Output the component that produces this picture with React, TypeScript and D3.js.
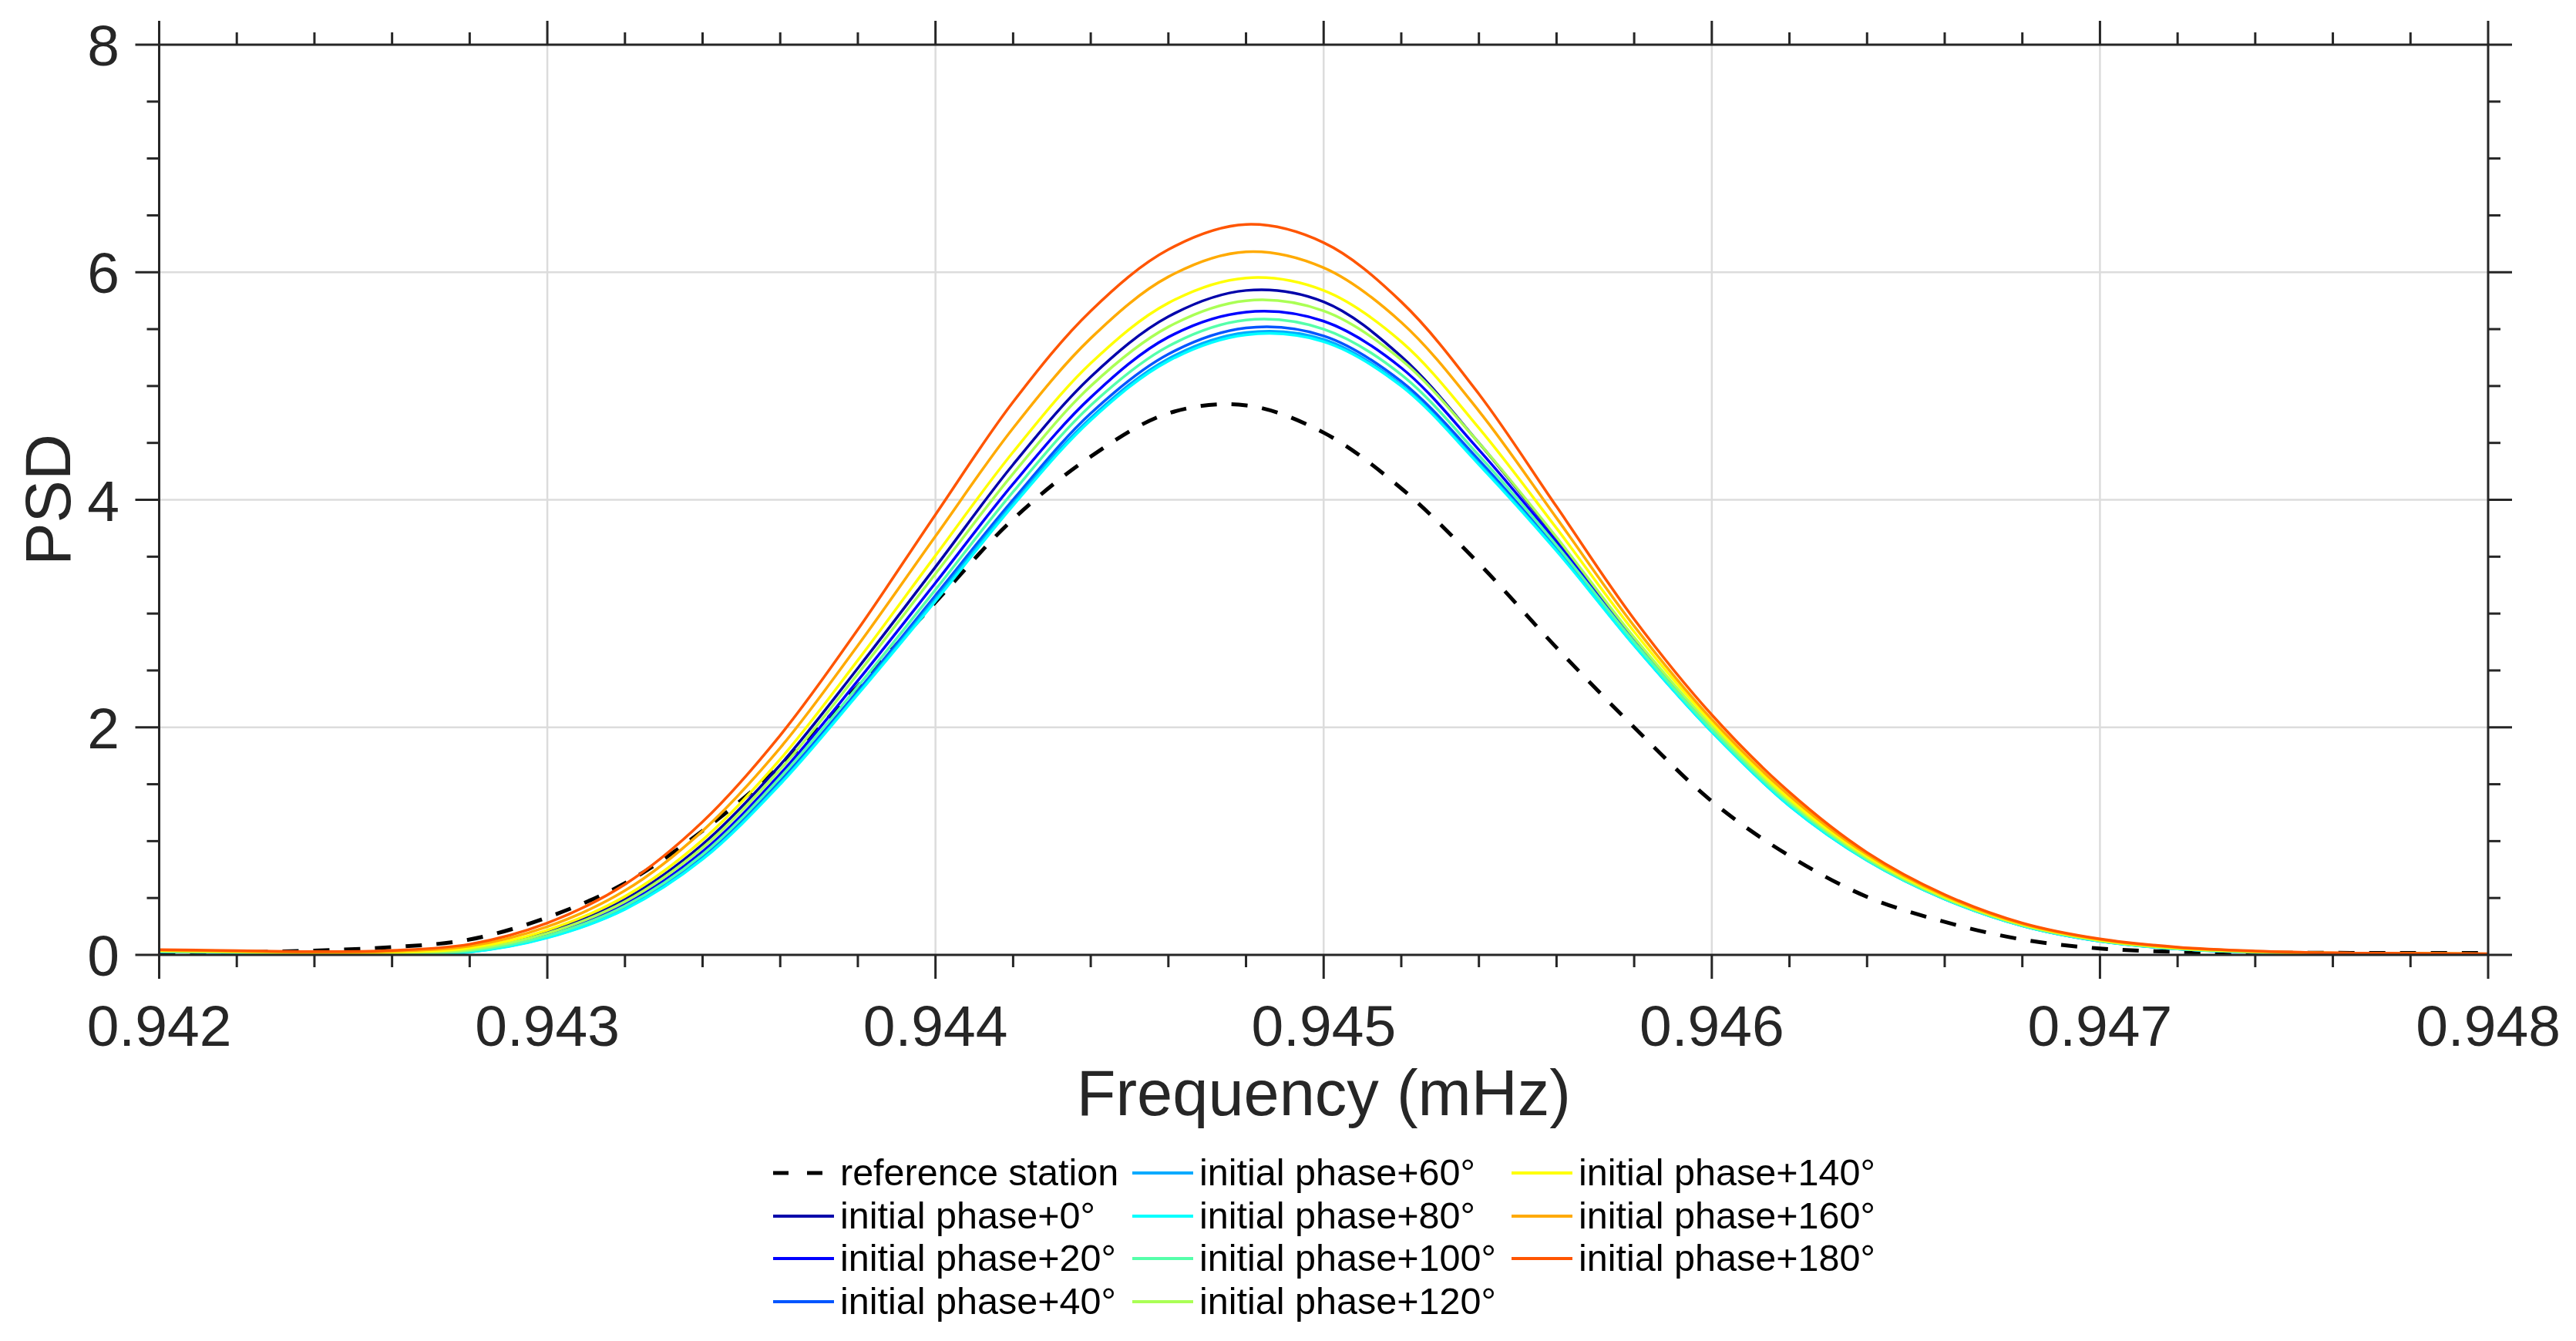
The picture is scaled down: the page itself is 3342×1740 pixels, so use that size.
import React, { useEffect } from 'react';
import * as d3 from 'd3';

const FREQ = [0.942, 0.9422, 0.9424, 0.9426, 0.9428, 0.943, 0.9432, 0.9434, 0.9436, 0.9438, 0.944, 0.9442, 0.9444, 0.9446, 0.9448, 0.945, 0.9452, 0.9454, 0.9456, 0.9458, 0.946, 0.9462, 0.9464, 0.9466, 0.9468, 0.947, 0.9472, 0.9474, 0.9476, 0.9478, 0.948];

const REF = [0.015, 0.022, 0.038, 0.068, 0.135, 0.33, 0.63, 1.09, 1.66, 2.36, 3.1, 3.83, 4.38, 4.76, 4.83, 4.59, 4.1, 3.44, 2.7, 2.0, 1.35, 0.87, 0.51, 0.29, 0.135, 0.056, 0.027, 0.02, 0.018, 0.017, 0.017];
const P0 = [0.035, 0.027, 0.018, 0.02, 0.053, 0.202, 0.488, 0.972, 1.67, 2.52, 3.41, 4.31, 5.08, 5.61, 5.84, 5.74, 5.26, 4.5, 3.66, 2.78, 2.0, 1.34, 0.85, 0.5, 0.262, 0.126, 0.057, 0.026, 0.014, 0.01, 0.007];
const P20 = [0.032, 0.024, 0.015, 0.015, 0.04, 0.177, 0.446, 0.909, 1.59, 2.41, 3.27, 4.14, 4.9, 5.43, 5.65, 5.57, 5.16, 4.44, 3.63, 2.77, 1.99, 1.34, 0.845, 0.498, 0.26, 0.124, 0.055, 0.025, 0.013, 0.009, 0.007];
const P40 = [0.029, 0.021, 0.013, 0.01, 0.029, 0.158, 0.413, 0.86, 1.53, 2.32, 3.16, 4.0, 4.76, 5.28, 5.51, 5.44, 5.04, 4.35, 3.57, 2.73, 1.97, 1.32, 0.834, 0.492, 0.257, 0.121, 0.053, 0.024, 0.012, 0.008, 0.006];
const P60 = [0.028, 0.02, 0.012, 0.009, 0.026, 0.153, 0.404, 0.847, 1.51, 2.3, 3.13, 3.97, 4.72, 5.24, 5.47, 5.41, 5.01, 4.32, 3.56, 2.72, 1.96, 1.31, 0.831, 0.491, 0.256, 0.12, 0.052, 0.023, 0.012, 0.008, 0.006];
const P80 = [0.028, 0.02, 0.012, 0.008, 0.025, 0.15, 0.4, 0.84, 1.5, 2.29, 3.11, 3.95, 4.7, 5.22, 5.45, 5.39, 5.0, 4.31, 3.55, 2.72, 1.96, 1.31, 0.83, 0.49, 0.255, 0.12, 0.052, 0.023, 0.012, 0.008, 0.006];
const P100 = [0.03, 0.022, 0.014, 0.012, 0.034, 0.167, 0.429, 0.883, 1.56, 2.36, 3.21, 4.07, 4.83, 5.35, 5.58, 5.5, 5.1, 4.39, 3.6, 2.75, 1.98, 1.33, 0.839, 0.495, 0.258, 0.123, 0.054, 0.024, 0.013, 0.009, 0.0065];
const P120 = [0.034, 0.025, 0.017, 0.018, 0.046, 0.19, 0.468, 0.942, 1.63, 2.47, 3.35, 4.23, 5.0, 5.52, 5.75, 5.66, 5.23, 4.5, 3.67, 2.79, 2.01, 1.35, 0.852, 0.502, 0.263, 0.126, 0.057, 0.026, 0.014, 0.01, 0.007];
const P140 = [0.037, 0.029, 0.02, 0.024, 0.061, 0.218, 0.514, 1.01, 1.72, 2.59, 3.51, 4.42, 5.2, 5.73, 5.95, 5.84, 5.39, 4.63, 3.75, 2.84, 2.04, 1.37, 0.866, 0.511, 0.268, 0.13, 0.06, 0.029, 0.015, 0.011, 0.008];
const P160 = [0.042, 0.033, 0.024, 0.031, 0.077, 0.248, 0.565, 1.09, 1.82, 2.72, 3.68, 4.63, 5.42, 5.96, 6.18, 6.04, 5.56, 4.78, 3.84, 2.89, 2.07, 1.4, 0.883, 0.52, 0.274, 0.135, 0.064, 0.031, 0.017, 0.013, 0.009];
const P180 = [0.046, 0.037, 0.028, 0.039, 0.094, 0.28, 0.62, 1.17, 1.93, 2.86, 3.87, 4.86, 5.66, 6.2, 6.42, 6.26, 5.74, 4.93, 3.94, 2.95, 2.11, 1.43, 0.9, 0.53, 0.28, 0.14, 0.068, 0.034, 0.018, 0.014, 0.01];

const PHASE_NAMES = ['initial phase+0°', 'initial phase+20°', 'initial phase+40°', 'initial phase+60°', 'initial phase+80°', 'initial phase+100°', 'initial phase+120°', 'initial phase+140°', 'initial phase+160°', 'initial phase+180°'];
const PHASE_COLORS = ['#0000AA', '#0000FF', '#0055FF', '#00AAFF', '#00FFFF', '#55FFAA', '#AAFF55', '#FFFF00', '#FFAA00', '#FF5500'];
const PHASE_VALUES = [P0, P20, P40, P60, P80, P100, P120, P140, P160, P180];
const REF_NAME = 'reference station';

const X_DOMAIN = [0.942, 0.948];
const Y_DOMAIN = [0, 8];
const Y_MAJOR = [0, 2, 4, 6, 8];
const X_MAJOR = [0.942, 0.943, 0.944, 0.945, 0.946, 0.947, 0.948];

const FONT = '"Liberation Sans", Arial, sans-serif';
const AX = '#262626';

export default function App() {
  useEffect(() => {
    document.body.style.margin = '0';
  }, []);

  const W = 3342;
  const H = 1740;
  const L = 206.5, R = 3228, T = 58, B = 1239;
  const x = d3.scaleLinear().domain(X_DOMAIN).range([L, R]);
  const y = d3.scaleLinear().domain(Y_DOMAIN).range([B, T]);
  const line = d3
    .line<number>()
    .x((_, i) => x(FREQ[i]))
    .y((d) => y(d))
    .curve(d3.curveCatmullRom.alpha(0.5));

  const xMinor = x.ticks(30);
  const yMinor = y.ticks(16);
  const majLen = 31;
  const minLen = 16;
  const fmtX = d3.format('.3f');

  const legendItems = [
    { name: REF_NAME, color: '#000000', dashed: true },
    ...PHASE_NAMES.map((n, i) => ({ name: n, color: PHASE_COLORS[i], dashed: false })),
  ];
  const colX = [1003, 1469, 1961];
  const rowY = [1522, 1578, 1633, 1689];

  return (
    <svg width={W} height={H} style={{ position: 'absolute', left: 0, top: 0, background: '#fff' }} xmlns="http://www.w3.org/2000/svg">
      <rect x={0} y={0} width={W} height={H} fill="#ffffff" />
      <g stroke="#dcdcdc" strokeWidth={2.5}>
        {X_MAJOR.slice(1, -1).map((v) => (
          <line key={'gx' + v} x1={x(v)} x2={x(v)} y1={T} y2={B} />
        ))}
        {Y_MAJOR.slice(1, -1).map((v) => (
          <line key={'gy' + v} x1={L} x2={R} y1={y(v)} y2={y(v)} />
        ))}
      </g>
      <path d={line(REF) || ''} fill="none" stroke="#000" strokeWidth={5} strokeDasharray="21,19" />
      {PHASE_VALUES.map((vals, i) => (
        <path key={'s' + i} d={line(vals) || ''} fill="none" stroke={PHASE_COLORS[i]} strokeWidth={3.5} />
      ))}
      <g stroke={AX} strokeWidth={3} fill="none">
        <rect x={L} y={T} width={R - L} height={B - T} />
        {xMinor.map((v, i) => {
          const isMaj = X_MAJOR.some((m) => Math.abs(m - v) < 1e-7);
          const len = isMaj ? majLen : minLen;
          return (
            <g key={'xt' + i}>
              <line x1={x(v)} x2={x(v)} y1={B} y2={B + len} />
              <line x1={x(v)} x2={x(v)} y1={T} y2={T - len} />
            </g>
          );
        })}
        {yMinor.map((v, i) => {
          const isMaj = Y_MAJOR.some((m) => Math.abs(m - v) < 1e-7);
          const len = isMaj ? majLen : minLen;
          return (
            <g key={'yt' + i}>
              <line x1={L} x2={L - len} y1={y(v)} y2={y(v)} />
              <line x1={R} x2={R + len} y1={y(v)} y2={y(v)} />
            </g>
          );
        })}
      </g>
      <g fill={AX} fontFamily={FONT} fontSize={75}>
        {X_MAJOR.map((v) => (
          <text key={'xl' + v} x={x(v)} y={1357} textAnchor="middle">
            {fmtX(v)}
          </text>
        ))}
        {Y_MAJOR.map((v) => (
          <text key={'yl' + v} x={155} y={y(v) + 27} textAnchor="end">
            {String(v)}
          </text>
        ))}
      </g>
      <text x={(L + R) / 2} y={1447} textAnchor="middle" fontFamily={FONT} fontSize={83} fill={AX}>
        Frequency (mHz)
      </text>
      <text transform={`translate(91,${(T + B) / 2}) rotate(-90)`} textAnchor="middle" fontFamily={FONT} fontSize={83} fill={AX}>
        PSD
      </text>
      <g fontFamily={FONT} fontSize={48.5} fill="#000">
        {legendItems.map((it, k) => {
          const col = Math.floor(k / 4);
          const row = k % 4;
          const lx = colX[col];
          const ly = rowY[row];
          return (
            <g key={'lg' + k}>
              <line
                x1={lx}
                x2={lx + 79}
                y1={ly}
                y2={ly}
                stroke={it.color}
                strokeWidth={it.dashed ? 5 : 4}
                strokeDasharray={it.dashed ? '20,24' : undefined}
              />
              <text x={lx + 87} y={ly + 16}>
                {it.name}
              </text>
            </g>
          );
        })}
      </g>
    </svg>
  );
}
